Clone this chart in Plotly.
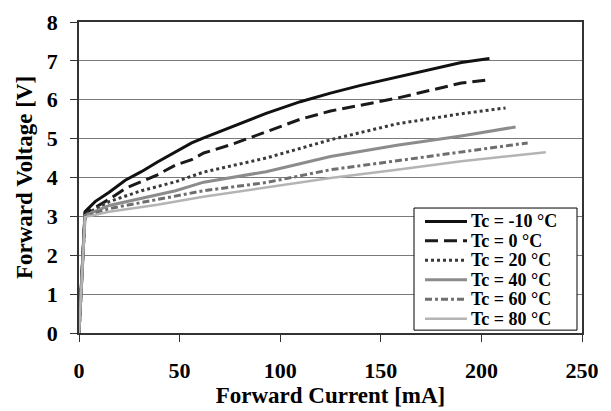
import plotly.graph_objects as go

# Forward current [mA] and forward voltage [V] for each case temperature
i_m10 = [0, 3, 8, 15, 23, 31, 39, 48, 56, 62, 77, 93, 110, 125, 140, 158, 175, 190, 204]
v_m10 = [0, 3.12, 3.38, 3.62, 3.93, 4.15, 4.40, 4.65, 4.89, 5.02, 5.32, 5.65, 5.95, 6.17, 6.37, 6.58, 6.79, 6.96, 7.06]

i_0 = [0, 3, 15, 23, 39, 48, 56, 62, 77, 93, 110, 125, 158, 190, 203]
v_0 = [0, 3.08, 3.44, 3.72, 4.07, 4.32, 4.46, 4.63, 4.87, 5.18, 5.50, 5.71, 6.04, 6.43, 6.51]

i_20 = [0, 3, 15, 31, 48, 62, 93, 125, 158, 190, 212]
v_20 = [0, 3.05, 3.38, 3.66, 3.89, 4.14, 4.50, 4.97, 5.38, 5.64, 5.79]

i_40 = [0, 3, 15, 31, 48, 62, 93, 125, 158, 190, 217]
v_40 = [0, 3.02, 3.28, 3.46, 3.66, 3.88, 4.15, 4.54, 4.83, 5.07, 5.30]

i_60 = [0, 3, 15, 39, 62, 93, 125, 158, 190, 223]
v_60 = [0, 3.0, 3.20, 3.44, 3.66, 3.87, 4.20, 4.43, 4.66, 4.89]

i_80 = [0, 3, 15, 39, 61, 93, 125, 158, 190, 232]
v_80 = [0, 2.98, 3.12, 3.30, 3.50, 3.75, 3.99, 4.20, 4.42, 4.65]

names = ["Tc = -10 °C", "Tc = 0 °C", "Tc = 20 °C", "Tc = 40 °C", "Tc = 60 °C", "Tc = 80 °C"]
x_ticks = [0, 50, 100, 150, 200, 250]
y_ticks = [0, 1, 2, 3, 4, 5, 6, 7, 8]

series = [(i_m10, v_m10), (i_0, v_0), (i_20, v_20), (i_40, v_40), (i_60, v_60), (i_80, v_80)]
styles = [
    dict(color="#111111", width=3, dash="solid"),
    dict(color="#1a1a1a", width=3, dash="13px,6px"),
    dict(color="#3a3a3a", width=3, dash="3px,3px"),
    dict(color="#8c8c8c", width=3, dash="solid"),
    dict(color="#6e6e6e", width=3, dash="7px,3px,3px,3px"),
    dict(color="#b4b4b4", width=2.5, dash="solid"),
]

FONT = "Liberation Serif, Times New Roman, serif"
W, H = 611, 411
ML, MR, MT, MB = 79, 29, 10, 75
PW, PH = W - ML - MR, H - MT - MB


def px_x(p):
    return (p - ML) / PW


def px_y(p):
    return (H - MB - p) / PH


fig = go.Figure()
for (xs, ys), name, st in zip(series, names, styles):
    fig.add_trace(go.Scatter(x=xs, y=ys, mode="lines", name=name, line=st, showlegend=False))

# legend box drawn by hand so that its rows are as tight as in the original
box_l, box_r, box_t, box_b = 414, 577, 205, 333
fig.add_shape(type="rect", xref="paper", yref="paper",
              x0=px_x(box_l), x1=px_x(box_r), y0=px_y(box_b), y1=px_y(box_t),
              line=dict(color="black", width=1), fillcolor="white", layer="above")
row0, row_gap = 219, 20.4
for k, (name, st) in enumerate(zip(names, styles)):
    yy = px_y(row0 + k * row_gap)
    fig.add_shape(type="line", xref="paper", yref="paper",
                  x0=px_x(425), x1=px_x(467), y0=yy, y1=yy,
                  line=st, layer="above")
    fig.add_annotation(xref="paper", yref="paper", x=px_x(469), y=yy,
                       xanchor="left", yanchor="middle", showarrow=False,
                       text="<b>" + name + "</b>",
                       font=dict(family=FONT, size=18, color="black"))

fig.update_layout(
    width=W, height=H,
    margin=dict(l=ML, r=MR, t=MT, b=MB),
    paper_bgcolor="white", plot_bgcolor="white",
    font=dict(family=FONT, color="black", size=20),
    showlegend=False,
)
fig.update_xaxes(
    range=[0, 250], tickvals=x_ticks, ticktext=["<b>%d</b>" % v for v in x_ticks],
    showgrid=False, zeroline=False,
    showline=True, linecolor="#333333", linewidth=1.5, mirror=True,
    ticks="outside", ticklen=7, tickcolor="#333333",
    tickfont=dict(family=FONT, size=22, color="black"),
    ticklabelstandoff=10, ticklabeloverflow="allow",
    title=dict(text="<b>Forward Current [mA]</b>", font=dict(family=FONT, size=23, color="black"), standoff=2),
)
fig.update_yaxes(
    range=[0, 8], tickvals=y_ticks, ticktext=["<b>%d</b>" % v for v in y_ticks],
    showgrid=True, gridcolor="#7a7a7a", gridwidth=1, zeroline=False,
    showline=True, linecolor="#333333", linewidth=1.5, mirror=True,
    ticks="outside", ticklen=7, tickcolor="#333333",
    tickfont=dict(family=FONT, size=22, color="black"),
    ticklabelstandoff=8, ticklabeloverflow="allow",
    title=dict(text="<b>Forward Voltage [V]</b>", font=dict(family=FONT, size=23, color="black"), standoff=8),
)

fig.write_html("out.html")
